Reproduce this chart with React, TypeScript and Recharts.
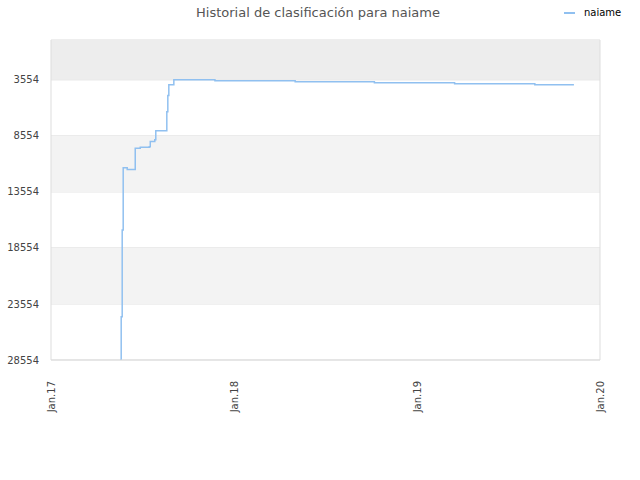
import React from 'react';
import { LineChart, Line, XAxis, YAxis, CartesianGrid, ReferenceArea, ReferenceLine } from 'recharts';

// days since 1 Jan 2017
const days = [138, 140, 142, 144, 152, 168, 178, 196, 198, 207, 209, 231, 233, 235, 245, 327, 487, 645, 805, 965, 1043];
const ranks = [28554, 24700, 16950, 11400, 11550, 9650, 9580, 9536, 9050, 8900, 8100, 6400, 4950, 4000, 3554, 3640, 3730, 3820, 3910, 4000, 4000];

const yTicks = [3554, 8554, 13554, 18554, 23554, 28554];
const xTicks = [0, 365, 730, 1095];
const xLabels = ['Jan.17', 'Jan.18', 'Jan.19', 'Jan.20'];

const bands = [
  { y1: 0, y2: 3554, fill: '#ededed' },
  { y1: 8554, y2: 13554, fill: '#f3f3f3' },
  { y1: 18554, y2: 23554, fill: '#f3f3f3' },
];

const data = days.map((d, i) => ({ day: d, rank: ranks[i] }));

const font = 'DejaVu Sans, sans-serif';

function XTick(props: any) {
  const { x, y, payload } = props;
  const i = xTicks.indexOf(payload.value);
  return (
    <text
      x={x + 3.5}
      y={y + 13}
      transform={`rotate(-90, ${x + 3.5}, ${y + 13})`}
      textAnchor="end"
      fontSize={10}
      fill="#444"
      fontFamily={font}
    >
      {xLabels[i]}
    </text>
  );
}

export default function App() {
  return (
    <div style={{ position: 'absolute', left: 0, top: 0, width: 640, height: 480, background: '#fff' }}>
      <div
        style={{
          position: 'absolute',
          top: 5,
          left: 0,
          width: 636,
          textAlign: 'center',
          fontFamily: font,
          fontSize: 13,
          color: '#555',
        }}
      >
        Historial de clasificación para naiame
      </div>
      <div
        style={{
          position: 'absolute',
          top: 6,
          left: 564,
          display: 'flex',
          alignItems: 'center',
          fontFamily: font,
          fontSize: 10,
          color: '#000',
        }}
      >
        <svg width={20} height={12}>
          <line x1={0} y1={7} x2={11} y2={7} stroke="#90c0f0" strokeWidth={2} />
        </svg>
        <span>naiame</span>
      </div>
      <LineChart width={640} height={480} data={data} margin={{ top: 40, right: 40, left: 0, bottom: 0 }}>
        {bands.map((b, i) => (
          <ReferenceArea key={i} y1={b.y1} y2={b.y2} fill={b.fill} fillOpacity={1} stroke="none" ifOverflow="hidden" />
        ))}
        <CartesianGrid vertical={false} stroke="#dddddd" strokeDasharray="" />
        <ReferenceLine x={1095} stroke="#dddddd" />
        <XAxis
          dataKey="day"
          type="number"
          domain={[0, 1095]}
          ticks={xTicks}
          tick={<XTick />}
          tickLine={false}
          axisLine={{ stroke: '#dddddd' }}
          height={120}
          interval={0}
        />
        <YAxis
          type="number"
          reversed
          domain={[0, 28554]}
          ticks={yTicks}
          width={51}
          tickLine={false}
          axisLine={{ stroke: '#dddddd' }}
          tick={{ fontSize: 10, fill: '#444', fontFamily: font }}
          tickMargin={6}
          allowDataOverflow
        />
        <Line
          type="stepAfter"
          dataKey="rank"
          stroke="#90c0f0"
          strokeWidth={1.5}
          dot={false}
          isAnimationActive={false}
        />
      </LineChart>
    </div>
  );
}
